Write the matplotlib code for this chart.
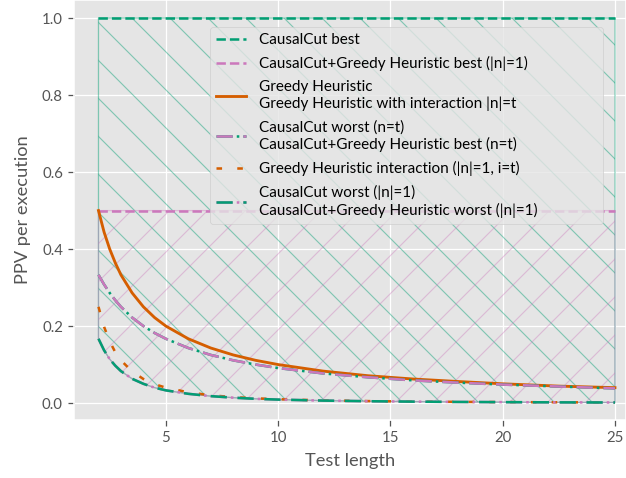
import matplotlib
matplotlib.use("Agg")
import matplotlib.pyplot as plt
from matplotlib.legend_handler import HandlerTuple

plt.style.use("ggplot")
plt.rcParams["font.family"] = ["Lato", "DejaVu Sans"]
plt.rcParams["hatch.linewidth"] = 0.7

green = "#029e73"
orange = "#d55e00"
pink = "#cc78bc"

# test length samples and PPV values
test_length = [2, 2.25, 2.5, 2.75, 3, 3.5, 4, 4.5, 5, 6, 7, 8, 9, 10, 12, 14, 16, 18, 20, 22.5, 25]
cc_best = [1.0] * len(test_length)
ccg_best_n1 = [0.5] * len(test_length)
greedy = [0.5, 0.444, 0.4, 0.364, 0.333, 0.286, 0.25, 0.222, 0.2, 0.167, 0.143, 0.125,
          0.111, 0.1, 0.083, 0.071, 0.0625, 0.056, 0.05, 0.044, 0.04]
cc_worst_nt = [0.333, 0.308, 0.286, 0.267, 0.25, 0.222, 0.2, 0.182, 0.167, 0.143, 0.125,
               0.111, 0.1, 0.091, 0.077, 0.067, 0.059, 0.053, 0.048, 0.043, 0.038]
greedy_inter = [0.25, 0.198, 0.16, 0.132, 0.111, 0.082, 0.0625, 0.049, 0.04, 0.028, 0.02,
                0.0156, 0.0123, 0.01, 0.0069, 0.0051, 0.0039, 0.0031, 0.0025, 0.002, 0.0016]
cc_worst_n1 = [0.167, 0.137, 0.114, 0.097, 0.083, 0.063, 0.05, 0.04, 0.033, 0.024, 0.018,
               0.014, 0.011, 0.009, 0.0064, 0.0048, 0.0037, 0.0029, 0.0024, 0.0018, 0.0015]

fig = plt.figure(figsize=(626 / 114, 478 / 114), dpi=114)
ax = fig.add_axes([74 / 626, 58 / 478, 552 / 626, 420 / 478])

# hatched areas
ax.fill_between(test_length, cc_worst_n1, cc_best, facecolor="none", edgecolor=green,
                hatch="\\", alpha=0.45, linewidth=0.8)
ax.fill_between(test_length, cc_worst_n1, ccg_best_n1, facecolor="none", edgecolor=pink,
                hatch="/", alpha=0.4, linewidth=0.8)

lw = 1.6
l1, = ax.plot(test_length, cc_best, color=green, ls="--", lw=lw)
l2, = ax.plot(test_length, ccg_best_n1, color=pink, ls="--", lw=lw)
l3, = ax.plot(test_length, greedy, color=orange, ls="-", lw=1.8)
l4a, = ax.plot(test_length, cc_worst_nt, color=green, ls="-.", lw=lw)
l4b, = ax.plot(test_length, cc_worst_nt, color=pink, lw=lw, dashes=(6.4, 4.2))
l5, = ax.plot(test_length, greedy_inter, color=orange, lw=lw, dashes=(2.2, 6))
l6a, = ax.plot(test_length, cc_worst_n1, color=pink, ls="-.", lw=lw)
l6b, = ax.plot(test_length, cc_worst_n1, color=green, lw=lw, dashes=(6.4, 4.2))

ax.set_xlim(0.91, 25.49)
ax.set_ylim(-0.044, 1.047)
ax.set_xticks([5, 10, 15, 20, 25])
ax.set_yticks([0.0, 0.2, 0.4, 0.6, 0.8, 1.0])
ax.tick_params(labelsize=9.5)
ax.set_xlabel("Test length", fontsize=11.5, labelpad=5)
ax.set_ylabel("PPV per execution", fontsize=11.5, labelpad=7)

labels = ["CausalCut best",
          "CausalCut+Greedy Heuristic best (|n|=1)",
          "Greedy Heuristic\nGreedy Heuristic with interaction |n|=t",
          "CausalCut worst (n=t)\nCausalCut+Greedy Heuristic best (n=t)",
          "Greedy Heuristic interaction (|n|=1, i=t)",
          "CausalCut worst (|n|=1)\nCausalCut+Greedy Heuristic worst (|n|=1)"]
ax.legend([l1, l2, l3, (l4a, l4b), l5, (l6a, l6b)], labels,
          handler_map={tuple: HandlerTuple(ndivide=1, pad=0)},
          loc="upper left", bbox_to_anchor=(0.2464, 0.0, 0.7119, 0.9357),
          mode="expand", borderaxespad=0, fontsize=9.6, labelspacing=0.6,
          framealpha=0.8)

fig.savefig("out.png", dpi=114)
